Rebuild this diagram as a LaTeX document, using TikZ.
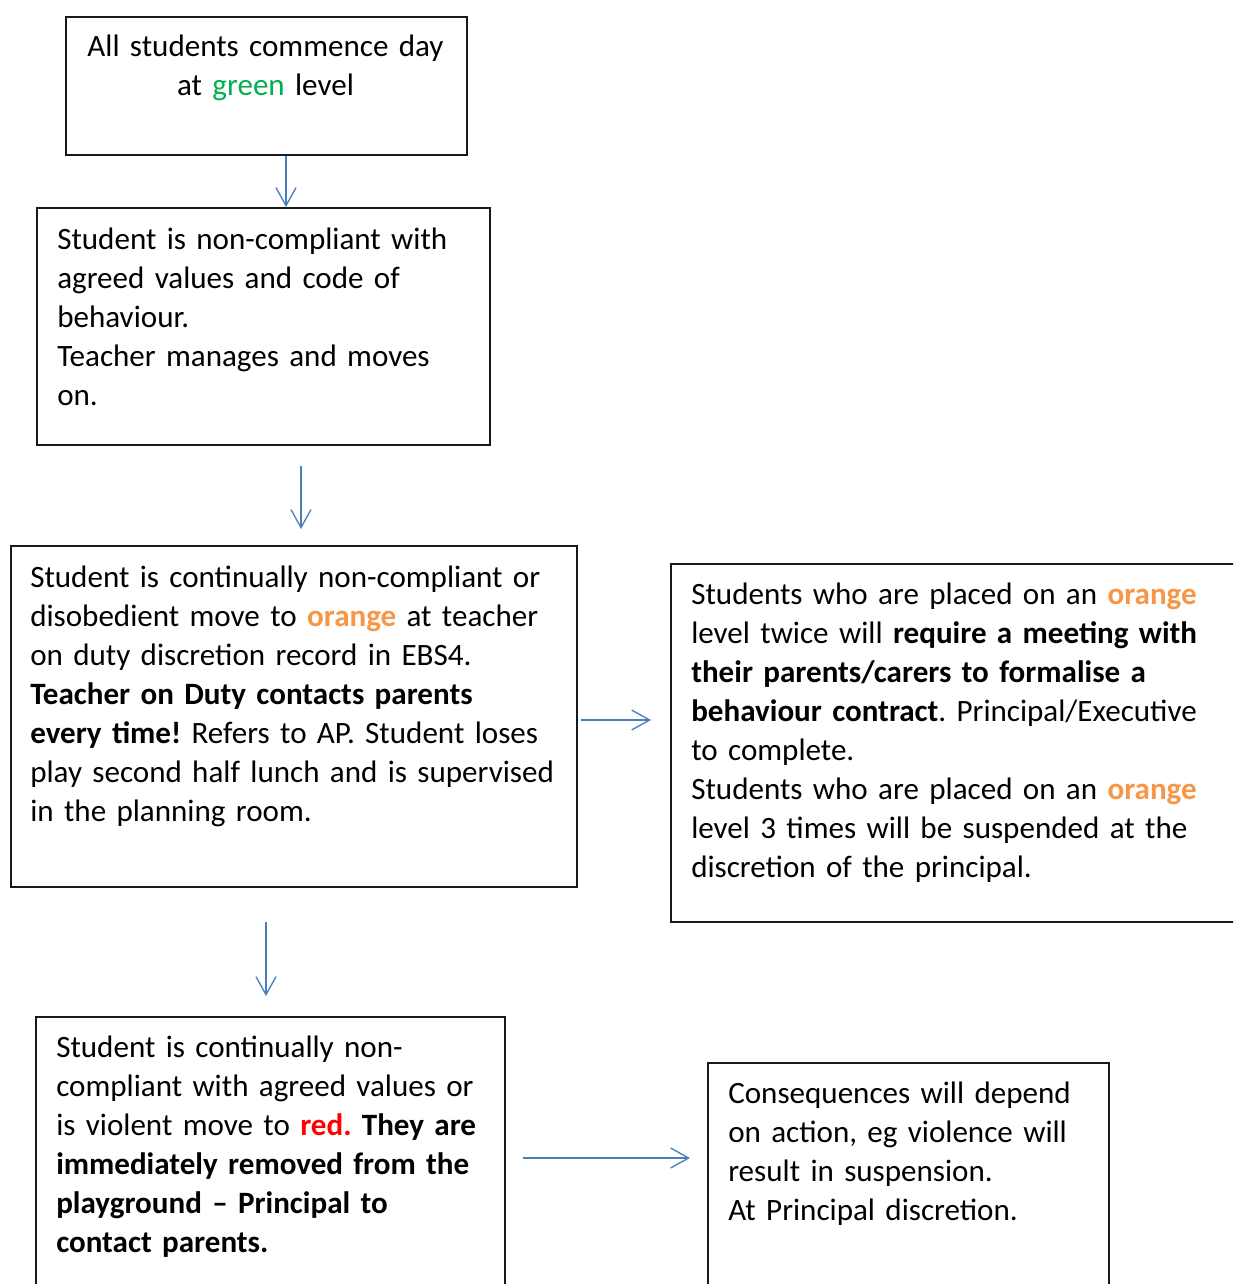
\documentclass[tikz,border=0pt]{standalone}
\usepackage{fontspec}
\setmainfont{Carlito}
\usetikzlibrary{arrows.meta}
\definecolor{lvgreen}{HTML}{00B050}
\definecolor{lvorange}{HTML}{F79646}
\definecolor{lvred}{HTML}{FF0000}
\definecolor{arrblue}{HTML}{4A7EBB}
\newcommand{\og}{\textcolor{lvorange}{\textbf{orange}}}
\frenchspacing
\tikzset{
  box/.style={draw=black!90, line width=1.5pt, inner sep=0pt, anchor=north west},
  txt/.style={inner sep=0pt, anchor=base west, align=left, text width=450pt,
    font=\fontsize{23.3pt}{29.25pt}\selectfont\frenchspacing},
  ctxt/.style={inner sep=0pt, anchor=base, align=center, text width=285pt,
    font=\fontsize{23.3pt}{29.25pt}\selectfont\frenchspacing},
  arr/.style={draw=arrblue, line width=1pt, -{Straight Barb[length=13.5pt,width=15pt]}}
}
\begin{document}
\begin{tikzpicture}[x=0.75pt,y=-0.75pt]
\useasboundingbox (0,0) rectangle (1233,1284);
\fill[white] (0,0) rectangle (1233,1284);
\clip (0,0) rectangle (1233,1284);
% boxes
\node[box, minimum width=300.75pt, minimum height=103.5pt] (A) at (65,16) {};
\node[box, minimum width=339.75pt, minimum height=177.75pt] (B) at (36,207) {};
\node[box, minimum width=424.5pt, minimum height=255.75pt] (C) at (10,545) {};
\node[box, minimum width=442.5pt, minimum height=268.5pt] (D) at (670,563) {};
\node[box, minimum width=351.75pt, minimum height=225pt] (E) at (35,1016) {};
\node[box, minimum width=300.75pt, minimum height=187.5pt] (F) at (707,1062) {};
% texts
\node[ctxt] (tA) at (265.5,57) {All students commence day\\at \textcolor{lvgreen}{green} level};
\node[txt] (tB) at (57,249) {Student is non-compliant with\\agreed values and code of\\behaviour.\\Teacher manages and moves\\on.};
\node[txt] (tC) at (30,587) {Student is continually non-compliant or\\disobedient move to \og{} at teacher\\on duty discretion record in EBS4.\\\textbf{Teacher on Duty contacts parents}\\\textbf{every time!} Refers to AP. Student loses\\play second half lunch and is supervised\\in the planning room.};
\node[txt] (tD) at (691,604) {Students who are placed on an \og\\level twice will \textbf{require a meeting with}\\\textbf{their parents/carers to formalise a}\\\textbf{behaviour contract}. Principal/Executive\\to complete.\\Students who are placed on an \og\\level 3 times will be suspended at the\\discretion of the principal.};
\node[txt] (tE) at (56,1057) {Student is continually non-\\compliant with agreed values or\\is violent move to \textcolor{lvred}{\textbf{red.}} \textbf{They are}\\\textbf{immediately removed from the}\\\textbf{playground – Principal to}\\\textbf{contact parents.}};
\node[txt] (tF) at (728,1103) {Consequences will depend\\on action, eg violence will\\result in suspension.\\At Principal discretion.};
% connector ends
\coordinate (x1) at (286,0);
\coordinate (s2) at (301,466);
\coordinate (e2) at (301,529);
\coordinate (s3) at (581,720);
\coordinate (e3) at (651,720);
\coordinate (s4) at (266,922);
\coordinate (e4) at (266,996);
\coordinate (s5) at (523,1158);
\coordinate (e5) at (690,1158);
\draw[arr] (A.south -| x1) -- (B.north -| x1);
\draw[arr] (s2) -- (e2);
\draw[arr] (s3) -- (e3);
\draw[arr] (s4) -- (e4);
\draw[arr] (s5) -- (e5);
\end{tikzpicture}
\end{document}
